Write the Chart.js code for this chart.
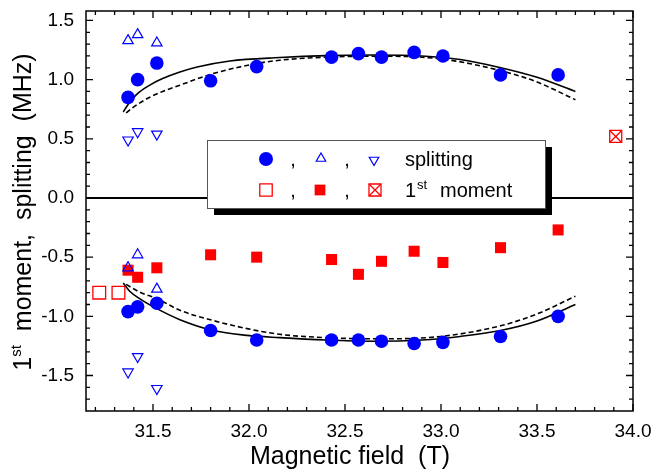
<!DOCTYPE html>
<html><head><meta charset="utf-8">
<script src="https://cdn.jsdelivr.net/npm/chart.js@4"></script>
<style>html,body{margin:0;padding:0;background:#fff}</style>
</head><body>
<canvas id="c" width="654" height="472"></canvas>
<script>
// ---- tick labels ----
const fieldTicks = [31.5, 32.0, 32.5, 33.0, 33.5, 34.0];
const splitTicks = [-1.5, -1.0, -0.5, 0.0, 0.5, 1.0, 1.5];

// ---- filled circles (splitting, +/-) ----
const circleField = [31.37, 31.42, 31.52, 31.80, 32.04, 32.43, 32.57, 32.69, 32.86, 33.01, 33.31, 33.61];
const circleUpper = [0.85, 1.00, 1.14, 0.99, 1.11, 1.19, 1.22, 1.19, 1.23, 1.20, 1.04, 1.04];
const circleLower = [-0.96, -0.92, -0.89, -1.12, -1.20, -1.20, -1.20, -1.21, -1.23, -1.22, -1.17, -1.00];

// ---- open triangles (splitting) ----
const triField = [31.37, 31.42, 31.52];
const triUpUpper = [1.33, 1.38, 1.31];
const triUpLower = [-0.59, -0.48, -0.77];
const triDownUpper = [0.49, 0.56, 0.54];
const triDownLower = [-1.47, -1.34, -1.61];

// ---- 1st moment ----
const openSqField = [31.22, 31.32];
const openSqMoment = [-0.80, -0.80];
const filledSqField = [31.37, 31.42, 31.52, 31.80, 32.04, 32.43, 32.57, 32.69, 32.86, 33.01, 33.31, 33.61];
const filledSqMoment = [-0.61, -0.67, -0.59, -0.48, -0.50, -0.52, -0.645, -0.535, -0.45, -0.545, -0.42, -0.27];
const crossSqField = [33.91];
const crossSqMoment = [0.52];

// ---- fit curves ----
const solidUpperField = [31.345, 31.37, 31.40, 31.43, 31.49, 31.55, 31.64, 31.73, 31.90, 32.16, 32.40, 32.65, 32.90, 33.10, 33.30, 33.50, 33.70];
const solidUpperVal   = [0.727, 0.79, 0.85, 0.896, 0.96, 1.009, 1.065, 1.107, 1.158, 1.187, 1.203, 1.208, 1.200, 1.170, 1.105, 1.02, 0.90];
const dashUpperField  = [31.36, 31.40, 31.47, 31.55, 31.64, 31.81, 32.04, 32.16, 32.40, 32.70, 33.00, 33.30, 33.50, 33.70];
const dashUpperVal    = [0.72, 0.77, 0.84, 0.90, 0.953, 1.05, 1.136, 1.164, 1.19, 1.198, 1.175, 1.08, 0.98, 0.83];
const solidLowerField = [31.345, 31.38, 31.43, 31.52, 31.64, 31.81, 31.99, 32.16, 32.40, 32.65, 32.90, 33.10, 33.31, 33.50, 33.70];
const solidLowerVal   = [-0.718, -0.79, -0.85, -0.935, -1.028, -1.118, -1.161, -1.18, -1.20, -1.21, -1.20, -1.17, -1.12, -1.04, -0.90];
const dashLowerField  = [31.36, 31.43, 31.52, 31.64, 31.81, 31.99, 32.16, 32.40, 32.70, 33.00, 33.31, 33.50, 33.70];
const dashLowerVal    = [-0.73, -0.795, -0.85, -0.949, -1.034, -1.104, -1.152, -1.18, -1.19, -1.17, -1.08, -0.98, -0.83];

const BLUE = '#0000ff', RED = '#ff0000';
const FONT = "'Liberation Sans', Arial, sans-serif";
const pts = (xs, ys) => xs.map((v, i) => ({x: v, y: ys[i]}));

function curve(xs, ys, dashed) {
  return {type: 'line', data: pts(xs, ys), borderColor: '#000', borderWidth: 1.6,
    borderDash: dashed ? [5, 3] : [], pointRadius: 0, showLine: true, fill: false,
    tension: 0.4, cubicInterpolationMode: 'monotone', order: 10};
}
function marks(xs, ys, style, fillCol, strokeCol, r, bw, rot) {
  return {type: 'scatter', data: pts(xs, ys), pointStyle: style, pointRadius: r,
    pointBackgroundColor: fillCol, pointBorderColor: strokeCol, pointBorderWidth: bw,
    pointRotation: rot || 0, showLine: false, order: 1};
}

const datasets = [
  curve(solidUpperField, solidUpperVal, false),
  curve(dashUpperField, dashUpperVal, true),
  curve(solidLowerField, solidLowerVal, false),
  curve(dashLowerField, dashLowerVal, true),
  marks(circleField, circleUpper, 'circle', BLUE, BLUE, 6.8, 0),
  marks(circleField, circleLower, 'circle', BLUE, BLUE, 6.8, 0),
  marks(triField, triUpUpper, 'triangle', 'rgba(0,0,0,0)', BLUE, 6, 1.2),
  marks(triField, triUpLower, 'triangle', 'rgba(0,0,0,0)', BLUE, 6, 1.2),
  marks(triField, triDownUpper, 'triangle', 'rgba(0,0,0,0)', BLUE, 6, 1.2, 180),
  marks(triField, triDownLower, 'triangle', 'rgba(0,0,0,0)', BLUE, 6, 1.2, 180),
  marks(openSqField, openSqMoment, 'rect', 'rgba(0,0,0,0)', RED, 9, 1.3),
  marks(filledSqField, filledSqMoment, 'rect', RED, RED, 7.8, 0),
  marks(crossSqField, crossSqMoment, 'rect', 'rgba(0,0,0,0)', RED, 8.5, 1.3),
  marks(crossSqField, crossSqMoment, 'crossRot', 'rgba(0,0,0,0)', RED, 8.5, 1.3),
];

const framePlugin = {
  id: 'frame',
  beforeDatasetsDraw(chart) {
    const {ctx, chartArea: a, scales: {y}} = chart;
    const y0 = y.getPixelForValue(0);
    ctx.save();
    ctx.strokeStyle = '#000'; ctx.lineWidth = 2;
    ctx.beginPath(); ctx.moveTo(a.left, y0); ctx.lineTo(a.right, y0); ctx.stroke();
    ctx.restore();
  },
  afterDraw(chart) {
    const {ctx, chartArea: a, scales: {x, y}} = chart;
    ctx.save();
    ctx.strokeStyle = '#000'; ctx.lineWidth = 1.5;
    ctx.strokeRect(a.left, a.top, a.right - a.left, a.bottom - a.top);
    ctx.lineWidth = 1.3;
    ctx.beginPath();
    for (let k = 312; k <= 340; k++) {
      const px = x.getPixelForValue(k / 10);
      const L = (k % 5 === 0) ? 7 : 4;
      ctx.moveTo(px, a.bottom); ctx.lineTo(px, a.bottom - L);
      ctx.moveTo(px, a.top); ctx.lineTo(px, a.top + L);
    }
    for (let k = -17; k <= 15; k++) {
      const py = y.getPixelForValue(k / 10);
      const L = (k % 5 === 0) ? 7 : 4;
      ctx.moveTo(a.left, py); ctx.lineTo(a.left + L, py);
      ctx.moveTo(a.right, py); ctx.lineTo(a.right - L, py);
    }
    ctx.stroke();

    // axis titles
    const titleF = '25px ' + FONT, titleSup = '15px ' + FONT;
    ctx.fillStyle = '#000';
    ctx.font = titleF;
    ctx.textAlign = 'center'; ctx.textBaseline = 'middle';
    ctx.fillText('Magnetic field  (T)', 350, 457);

    // y title with superscript
    ctx.save();
    ctx.translate(31, 212);
    ctx.rotate(-Math.PI / 2);
    ctx.textAlign = 'left'; ctx.textBaseline = 'alphabetic';
    const rest = '  moment,  splitting  (MHz)';
    ctx.font = titleF; const w1 = ctx.measureText('1').width; const w3 = ctx.measureText(rest).width;
    ctx.font = titleSup; const w2 = ctx.measureText('st').width;
    let sx = -(w1 + w2 + w3) / 2;
    ctx.font = titleF; ctx.fillText('1', sx, 0); sx += w1;
    ctx.font = titleSup; ctx.fillText('st', sx, -10); sx += w2;
    ctx.font = titleF; ctx.fillText(rest, sx, 0);
    ctx.restore();

    // legend
    const mainF = '20px ' + FONT, supF = '13px ' + FONT;
    ctx.fillStyle = '#000';
    ctx.fillRect(214, 147, 338, 68);
    ctx.fillStyle = '#fff';
    ctx.fillRect(207, 140, 338, 68);
    ctx.strokeStyle = '#555'; ctx.lineWidth = 1;
    ctx.strokeRect(207.5, 140.5, 338, 68);
    const H = Chart.helpers;
    const mk = (style, x0, y0, r, fill, stroke, bw, rot) => {
      ctx.save();
      ctx.fillStyle = fill; ctx.strokeStyle = stroke; ctx.lineWidth = bw;
      H.drawPoint(ctx, {pointStyle: style, radius: r, rotation: rot || 0, borderWidth: bw}, x0, y0);
      ctx.restore();
    };
    mk('circle', 266, 159, 7, BLUE, BLUE, 0);
    mk('triangle', 321, 158.5, 5.5, 'rgba(0,0,0,0)', BLUE, 1.2);
    mk('triangle', 374, 160, 5.5, 'rgba(0,0,0,0)', BLUE, 1.2, 180);
    mk('rect', 266, 190, 8.8, 'rgba(0,0,0,0)', RED, 1.3);
    mk('rect', 320, 190, 7.6, RED, RED, 0);
    mk('rect', 375, 190, 8.5, 'rgba(0,0,0,0)', RED, 1.3);
    mk('crossRot', 375, 190, 8.5, 'rgba(0,0,0,0)', RED, 1.3);
    ctx.fillStyle = '#000';
    ctx.font = mainF; ctx.textAlign = 'center'; ctx.textBaseline = 'alphabetic';
    ctx.fillText(',', 293, 166); ctx.fillText(',', 347, 166);
    ctx.fillText(',', 293, 197); ctx.fillText(',', 347, 197);
    ctx.textAlign = 'left';
    ctx.fillText('splitting', 405, 166);
    ctx.fillText('1', 405, 197);
    const lw1 = ctx.measureText('1').width;
    ctx.font = supF; ctx.fillText('st', 405 + lw1 + 1, 189);
    ctx.font = mainF; ctx.fillText('moment', 440, 197);
    ctx.restore();
  }
};

new Chart(document.getElementById('c'), {
  type: 'scatter',
  data: {datasets},
  options: {
    responsive: false, animation: false, devicePixelRatio: 1,
    layout: {padding: {top: 11, right: 21, left: 0, bottom: 0}},
    plugins: {legend: {display: false}, tooltip: {enabled: false}},
    scales: {
      x: {type: 'linear', min: 31.151, max: 34.0,
        afterBuildTicks: s => { s.ticks = fieldTicks.map(v => ({value: v})); },
        afterFit: s => { s.height = 61; s.paddingLeft = 0; s.paddingRight = 0; },
        grid: {display: false, drawTicks: false}, border: {display: false},
        ticks: {font: {size: 19, family: FONT}, color: '#000', padding: 9, maxRotation: 0,
          callback: v => Number(v).toFixed(1)}},
      y: {type: 'linear', min: -1.80, max: 1.58,
        afterBuildTicks: s => { s.ticks = splitTicks.map(v => ({value: v})); },
        afterFit: s => { s.width = 86; s.paddingTop = 0; s.paddingBottom = 0; },
        grid: {display: false, drawTicks: false}, border: {display: false},
        ticks: {font: {size: 19, family: FONT}, color: '#000', padding: 12,
          callback: v => Number(v).toFixed(1)}}
    }
  },
  plugins: [framePlugin]
});
</script>
</body></html>
